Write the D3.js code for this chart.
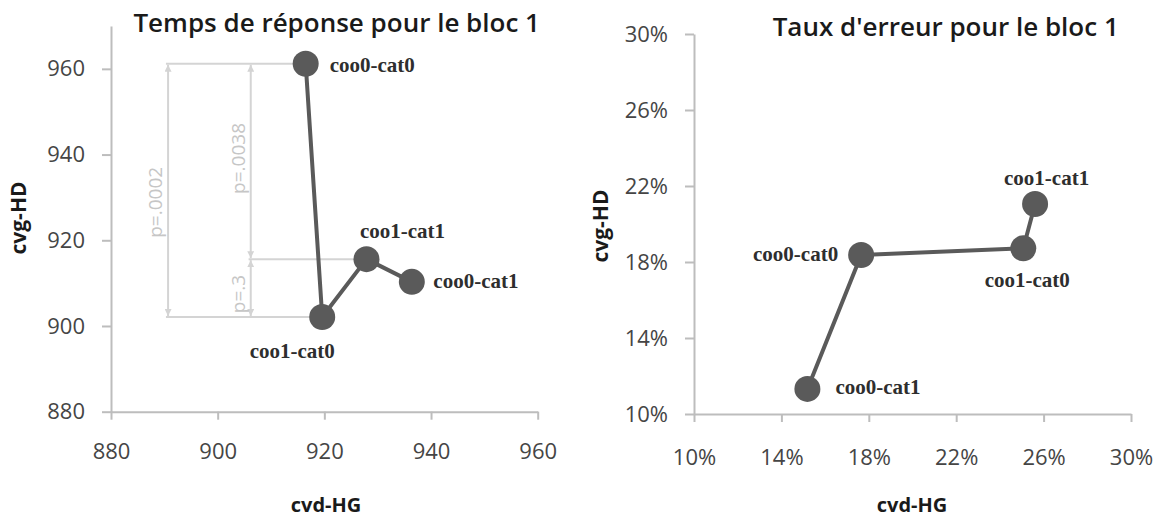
<!DOCTYPE html>
<html>
<head>
<meta charset="utf-8">
<script src="https://cdn.jsdelivr.net/npm/d3@7"></script>
<style>
  html, body { margin: 0; padding: 0; background: #ffffff; }
  svg { display: block; }
</style>
</head>
<body>
<svg id="chart" width="1164" height="520"></svg>
<script>
// ---------- data ----------
const leftTitle = "Temps de réponse pour le bloc 1";
const rightTitle = "Taux d'erreur pour le bloc 1";
const xAxisTitle = "cvd-HG";
const yAxisTitle = "cvg-HD";

const rtLabels = ["coo0-cat0", "coo1-cat0", "coo1-cat1", "coo0-cat1"];
const rtX = [916.5, 919.6, 927.9, 936.4];
const rtY = [961.2, 902.1, 915.6, 910.3];
const rtTicks = [880, 900, 920, 940, 960];

const errLabels = ["coo0-cat1", "coo0-cat0", "coo1-cat0", "coo1-cat1"];
const errX = [0.1519, 0.1765, 0.2507, 0.2561];
const errY = [0.1132, 0.1837, 0.1872, 0.2105];
const errTicks = [0.10, 0.14, 0.18, 0.22, 0.26, 0.30];

// significance annotations (left chart)
const annLabels = ["p=.0002", "p=.0038", "p=.3"];
const annX = [890.7, 906.2, 906.2];
const annFrom = [961.2, 961.2, 915.6];
const annTo = [902.1, 915.6, 902.1];

// ---------- styles ----------
const svg = d3.select("#chart");
const axisColor = "#bdbdbd";
const tickTextColor = "#454545";
const markColor = "#5a5a5a";
const annColor = "#d4d4d4";
const tickFont = "'Open Sans', sans-serif";
const labelFont = "'Liberation Serif', serif";

svg.append("rect").attr("width", 1164).attr("height", 520).attr("fill", "#ffffff");

const defs = svg.append("defs");
function arrowMarker(id, orient) {
  defs.append("marker")
    .attr("id", id).attr("viewBox", "0 0 10 10")
    .attr("refX", 10).attr("refY", 5)
    .attr("markerWidth", 7).attr("markerHeight", 7)
    .attr("markerUnits", "userSpaceOnUse")
    .attr("orient", orient)
    .append("path").attr("d", "M0,0 L10,5 L0,10 Z").attr("fill", annColor);
}
arrowMarker("arrEnd", "auto");
arrowMarker("arrStart", "auto-start-reverse");

// ---------- scales ----------
const lx = d3.scaleLinear().domain([880, 960]).range([111, 537.7]);
const ly = d3.scaleLinear().domain([880, 970]).range([411.7, 26]);
const rx = d3.scaleLinear().domain([0.10, 0.30]).range([694, 1131]);
const ry = d3.scaleLinear().domain([0.10, 0.30]).range([414, 34]);

function styleAxis(g) {
  g.select(".domain").attr("stroke", axisColor).attr("stroke-width", 2);
  g.selectAll(".tick line").attr("stroke", axisColor).attr("stroke-width", 2);
  g.selectAll(".tick text").attr("fill", tickTextColor)
    .attr("font-family", tickFont).attr("font-size", 22);
}

function drawAxes(xs, ys, ticksX, ticksY, fmt, xPad, yPad) {
  const gx = svg.append("g").attr("transform", `translate(0,${ys.range()[0]})`)
    .call(d3.axisBottom(xs).tickValues(ticksX).tickFormat(fmt)
      .tickSize(8).tickSizeOuter(0).tickPadding(xPad));
  styleAxis(gx);
  const gy = svg.append("g").attr("transform", `translate(${xs.range()[0]},0)`)
    .call(d3.axisLeft(ys).tickValues(ticksY).tickFormat(fmt)
      .tickSize(9).tickSizeOuter(0).tickPadding(yPad));
  styleAxis(gy);
}

drawAxes(lx, ly, rtTicks, rtTicks, d3.format("d"), 24, 17);
drawAxes(rx, ry, errTicks, errTicks, d3.format(".0%"), 27, 17);

// ---------- titles ----------
function text(x, y, str, opts) {
  const t = svg.append("text").attr("x", x).attr("y", y).text(str)
    .attr("font-family", opts.family || tickFont)
    .attr("font-size", opts.size)
    .attr("font-weight", opts.weight || "normal")
    .attr("fill", opts.fill || "#1a1a1a")
    .attr("text-anchor", opts.anchor || "middle");
  if (opts.rotate) t.attr("transform", `rotate(-90,${x},${y})`);
  return t;
}

text(336.7, 31.7, leftTitle, {size: 26, weight: 600});
text(945.7, 36, rightTitle, {size: 26, weight: 600});

text(326, 512, xAxisTitle, {size: 20, weight: "bold"});
text(912, 512, xAxisTitle, {size: 20, weight: "bold"});
text(26, 218, yAxisTitle, {size: 21, weight: "bold", rotate: true});
text(608, 226, yAxisTitle, {size: 21, weight: "bold", rotate: true});

// ---------- annotations (left) ----------
const ann = svg.append("g");
const hLines = [
  {y: rtY[0], x1: annX[0] - 0.4, x2: rtX[0]},
  {y: rtY[1], x1: annX[0] - 0.4, x2: rtX[1]},
  {y: rtY[2], x1: annX[1] - 0.4, x2: rtX[2]}
];
ann.selectAll("line.h").data(hLines).join("line").attr("class", "h")
  .attr("x1", d => lx(d.x1)).attr("x2", d => lx(d.x2))
  .attr("y1", d => ly(d.y)).attr("y2", d => ly(d.y))
  .attr("stroke", annColor).attr("stroke-width", 2);

annLabels.forEach((lab, i) => {
  const x = lx(annX[i]);
  ann.append("line")
    .attr("x1", x).attr("x2", x)
    .attr("y1", ly(annFrom[i]) + 1).attr("y2", ly(annTo[i]) - 1)
    .attr("stroke", annColor).attr("stroke-width", 2)
    .attr("marker-start", "url(#arrStart)").attr("marker-end", "url(#arrEnd)");
  const cy = (ly(annFrom[i]) + ly(annTo[i])) / 2 + (i === 0 ? 12 : i === 2 ? 6 : -3);
  const tx = x - 6;
  ann.append("text").attr("x", tx).attr("y", cy).text(lab)
    .attr("transform", `rotate(-90,${tx},${cy})`)
    .attr("text-anchor", "middle")
    .attr("font-family", tickFont).attr("font-size", 19)
    .attr("fill", "#c6c6c6");
});

// ---------- series ----------
function drawSeries(xs, ys, X, Y, labels, offsets) {
  const pts = X.map((x, i) => [xs(x), ys(Y[i])]);
  svg.append("path").datum(pts)
    .attr("d", d3.line())
    .attr("fill", "none").attr("stroke", markColor)
    .attr("stroke-width", 4).attr("stroke-linejoin", "round");
  svg.append("g").selectAll("circle").data(pts).join("circle")
    .attr("cx", d => d[0]).attr("cy", d => d[1]).attr("r", 13)
    .attr("fill", markColor);
  svg.append("g").selectAll("text").data(pts).join("text")
    .attr("x", (d, i) => d[0] + offsets[i][0])
    .attr("y", (d, i) => d[1] + offsets[i][1])
    .attr("text-anchor", (d, i) => offsets[i][2])
    .attr("font-family", labelFont).attr("font-weight", "bold")
    .attr("font-size", 21).attr("fill", "#2e2e2e")
    .text((d, i) => labels[i]);
}

drawSeries(lx, ly, rtX, rtY, rtLabels,
  [[24, 8, "start"], [-30, 41, "middle"], [36, -21, "middle"], [21.5, 6, "start"]]);
drawSeries(rx, ry, errX, errY, errLabels,
  [[28, 5, "start"], [-23, 6, "end"], [4, 39, "middle"], [11.5, -19, "middle"]]);
</script>
</body>
</html>
